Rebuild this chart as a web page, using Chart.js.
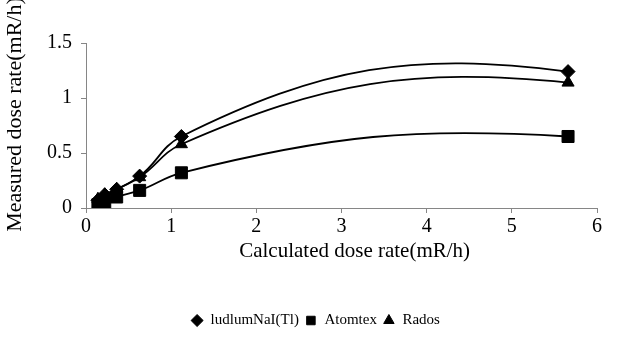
<!DOCTYPE html>
<html>
<head>
<meta charset="utf-8">
<script src="https://cdn.jsdelivr.net/npm/chart.js@4.4.1/dist/chart.umd.min.js"></script>
<style>
  html, body { margin: 0; padding: 0; background: #fff; }
  #wrap { width: 631px; height: 350px; }
</style>
</head>
<body>
<div id="wrap"><canvas id="doseChart"></canvas></div>
<script>
// calculated dose rate (mR/h) at each measuring position
const calculated = [0.14, 0.22, 0.36, 0.63, 1.12, 5.66];

// measured dose rate (mR/h) per instrument
const ludlum = [0.07, 0.12, 0.17, 0.29, 0.65, 1.24];
const atomtex = [0.03, 0.05, 0.10, 0.16, 0.32, 0.65];
const rados = [0.08, 0.12, 0.17, 0.28, 0.58, 1.14];

const seriesNames = ['ludlumNaI(Tl)', 'Atomtex', 'Rados'];
const xTicks = [0, 1, 2, 3, 4, 5, 6];
const yTicks = [0, 0.5, 1, 1.5];

const FONT = 'Liberation Serif, Times New Roman, serif';
const AXIS_GREY = '#868686';

function pairs(ys) {
    return calculated.map((x, i) => ({ x: x, y: ys[i] }));
}

// tangent directions for a smooth curve through the pixel points
function tangents(p) {
    const n = p.length;
    const t = [];
    for (let i = 1; i < n - 1; i++) {
        const ax = p[i].x - p[i - 1].x, ay = p[i].y - p[i - 1].y;
        const bx = p[i + 1].x - p[i].x, by = p[i + 1].y - p[i].y;
        const da = Math.hypot(ax, ay), db = Math.hypot(bx, by);
        // bisector of the incoming and outgoing directions
        const tx = ax / da + bx / db;
        const ty = ay / da + by / db;
        const len = Math.hypot(tx, ty);
        t[i] = { x: tx / len, y: ty / len };
    }
    // end tangents mirror the neighbouring tangent about the end chord
    function mirror(tn, a, b) {
        const cl = Math.hypot(b.x - a.x, b.y - a.y);
        const ux = (b.x - a.x) / cl, uy = (b.y - a.y) / cl;
        const dot = tn.x * ux + tn.y * uy;
        return { x: 2 * dot * ux - tn.x, y: 2 * dot * uy - tn.y };
    }
    t[0] = mirror(t[1], p[0], p[1]);
    t[n - 1] = mirror(t[n - 2], p[n - 2], p[n - 1]);
    return t;
}

// draws the smoothed connecting lines underneath the markers
const smoothLines = {
    id: 'smoothLines',
    beforeDatasetsDraw(chart) {
        const ctx = chart.ctx;
        const xs = chart.scales.x, ys = chart.scales.y;
        const k = 0.4;
        chart.data.datasets.forEach(ds => {
            const p = ds.data.map(d => ({ x: xs.getPixelForValue(d.x), y: ys.getPixelForValue(d.y) }));
            const t = tangents(p);
            ctx.save();
            ctx.strokeStyle = '#000';
            ctx.lineWidth = 1.8;
            ctx.lineJoin = 'round';
            ctx.beginPath();
            ctx.moveTo(p[0].x, p[0].y);
            for (let i = 0; i < p.length - 1; i++) {
                const d = Math.hypot(p[i + 1].x - p[i].x, p[i + 1].y - p[i].y) * k;
                ctx.bezierCurveTo(
                    p[i].x + t[i].x * d, p[i].y + t[i].y * d,
                    p[i + 1].x - t[i + 1].x * d, p[i + 1].y - t[i + 1].y * d,
                    p[i + 1].x, p[i + 1].y
                );
            }
            ctx.stroke();
            ctx.restore();
        });
    }
};

const ctx = document.getElementById('doseChart').getContext('2d');
new Chart(ctx, {
    type: 'scatter',
    data: {
        datasets: [
            {
                label: seriesNames[0],
                data: pairs(ludlum),
                pointStyle: 'rectRot',
                pointRadius: 7,
                backgroundColor: '#000',
                borderColor: '#000',
                showLine: false
            },
            {
                label: seriesNames[1],
                data: pairs(atomtex),
                pointStyle: 'rect',
                pointRadius: 8.5,
                backgroundColor: '#000',
                borderColor: '#000',
                showLine: false
            },
            {
                label: seriesNames[2],
                data: pairs(rados),
                pointStyle: 'triangle',
                pointRadius: 7,
                backgroundColor: '#000',
                borderColor: '#000',
                showLine: false
            }
        ]
    },
    options: {
        responsive: true,
        maintainAspectRatio: false,
        animation: false,
        layout: {
            padding: { top: 43, right: 0, left: 0, bottom: 12 }
        },
        scales: {
            x: {
                type: 'linear',
                min: xTicks[0],
                max: xTicks[xTicks.length - 1],
                afterFit: scale => {
                    scale.height = 99;
                    // keep the plot short of the right edge, legend stays centred on the canvas
                    scale.paddingRight = 34;
                },
                ticks: {
                    stepSize: xTicks[1] - xTicks[0],
                    color: '#000',
                    padding: 2,
                    font: { family: FONT, size: 20 }
                },
                grid: {
                    drawOnChartArea: false,
                    tickLength: 5,
                    color: AXIS_GREY
                },
                border: { color: AXIS_GREY },
                title: {
                    display: true,
                    text: '     Calculated dose rate(mR/h)',
                    color: '#000',
                    padding: { bottom: 43.4 },
                    font: { family: FONT, size: 21 }
                }
            },
            y: {
                type: 'linear',
                min: yTicks[0],
                max: yTicks[yTicks.length - 1],
                afterFit: scale => { scale.width = 86; },
                ticks: {
                    stepSize: yTicks[1] - yTicks[0],
                    color: '#000',
                    padding: 9,
                    font: { family: FONT, size: 20 },
                    callback: value => String(value)
                },
                grid: {
                    drawOnChartArea: false,
                    tickLength: 5,
                    color: AXIS_GREY
                },
                border: { color: AXIS_GREY },
                title: {
                    display: true,
                    text: '    Measured dose rate(mR/h)',
                    color: '#000',
                    padding: { top: 2 },
                    font: { family: FONT, size: 22 }
                }
            }
        },
        plugins: {
            legend: {
                position: 'bottom',
                labels: {
                    usePointStyle: true,
                    boxWidth: 12,
                    boxHeight: 8.5,
                    padding: 6,
                    color: '#000',
                    font: { family: FONT, size: 15 }
                }
            },
            tooltip: { enabled: false }
        }
    },
    plugins: [smoothLines]
});
</script>
</body>
</html>
